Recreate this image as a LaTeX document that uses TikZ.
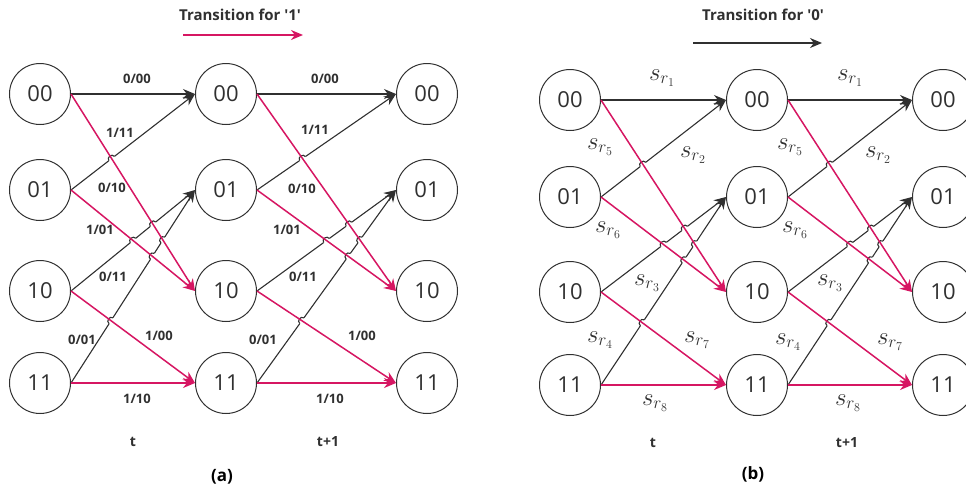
\documentclass[tikz,border=0pt]{standalone}
\usepackage{fontspec}
\setmainfont{Open Sans}
\usetikzlibrary{arrows.meta,intersections,calc}

\definecolor{trred}{RGB}{214,22,98}
\definecolor{trgray}{RGB}{48,48,48}

\tikzset{
  st/.style={circle,draw=trgray,line width=1pt,minimum size=61pt,inner sep=0pt,
    text=trgray,font=\fontsize{22}{24}\selectfont},
  zero/.style={draw=trgray,line width=1.1pt,-{Stealth[length=12pt,width=10pt]}},
  one/.style={draw=trred,line width=1.5pt,-{Stealth[length=12pt,width=10pt]}},
  lbl/.style={text=trgray,font=\fontsize{13}{15}\selectfont\bfseries},
  mlbl/.style={text=trgray,font=\fontsize{25}{27}\selectfont},
  ttl/.style={text=trgray,font=\fontsize{15}{17}\selectfont\bfseries},
  timelbl/.style={text=trgray,font=\fontsize{14}{16}\selectfont\bfseries},
  captxt/.style={text=black,font=\fontsize{17}{19}\selectfont\bfseries},
}

% little jump of a 0 branch over a 1 branch
\newcommand\hopover[3]{%
  \draw[white,line width=3pt] ($(#1)!3.5pt!(#2)$) -- ($(#1)!3.5pt!(#3)$);
  \draw[trgray,line width=1.1pt] ($(#1)!3.5pt!(#2)$) to[bend left=90,looseness=1.5] ($(#1)!3.5pt!(#3)$);}

\begin{document}
\begin{tikzpicture}[x=1pt,y=-1pt]
\useasboundingbox (0,0) rectangle (966,496);

% states, (a) left and (b) right
\foreach \s/\ya/\yb in {00/94/100,01/190/197,10/291/292,11/383/385}{
  \node[st] (a1-\s) at (40,\ya) {\s};
  \node[st] (a2-\s) at (226,\ya) {\s};
  \node[st] (a3-\s) at (427,\ya) {\s};
  \node[st] (b1-\s) at (570,\yb) {\s};
  \node[st] (b2-\s) at (757,\yb) {\s};
  \node[st] (b3-\s) at (943,\yb) {\s};
}

% branches of every stage
\foreach \p/\i/\j in {a/1/2,a/2/3,b/1/2,b/2/3}{
  \draw[zero] (\p\i-00.east) -- (\p\j-00.west);
  \draw[zero,name path=k01] (\p\i-01.east) -- (\p\j-00.west);
  \draw[zero,name path=k10] (\p\i-10.east) -- (\p\j-01.west);
  \draw[zero,name path=k11] (\p\i-11.east) -- (\p\j-01.west);
  \path[name path=r00] (\p\i-00.east) -- (\p\j-10.west);
  \path[name path=r01] (\p\i-01.east) -- (\p\j-10.west);
  \path[name path=r10] (\p\i-10.east) -- (\p\j-11.west);
  \path[name intersections={of=k01 and r00,by=x1}];
  \path[name intersections={of=k10 and r00,by=x2}];
  \path[name intersections={of=k10 and r01,by=x3}];
  \path[name intersections={of=k11 and r00,by=x4}];
  \path[name intersections={of=k11 and r01,by=x5}];
  \path[name intersections={of=k11 and r10,by=x6}];
  \hopover{x1}{\p\i-01.east}{\p\j-00.west}
  \hopover{x2}{\p\i-10.east}{\p\j-01.west}
  \hopover{x3}{\p\i-10.east}{\p\j-01.west}
  \hopover{x4}{\p\i-11.east}{\p\j-01.west}
  \hopover{x5}{\p\i-11.east}{\p\j-01.west}
  \hopover{x6}{\p\i-11.east}{\p\j-01.west}
  \draw[one] (\p\i-00.east) -- (\p\j-10.west);
  \draw[one] (\p\i-01.east) -- (\p\j-10.west);
  \draw[one] (\p\i-10.east) -- (\p\j-11.west);
  \draw[one] (\p\i-11.east) -- (\p\j-11.west);
}

% legends
\node[ttl] (ttla) at (240,15) {Transition for \textquotesingle 1\textquotesingle};
\coordinate (la1) at (183,35);
\coordinate (la2) at (303,35);
\draw[one] (la1) -- (la2);
\node[ttl] (ttlb) at (763,15) {Transition for \textquotesingle 0\textquotesingle};
\coordinate (lb1) at (693,43);
\coordinate (lb2) at (822,43);
\draw[zero] (lb1) -- (lb2);

% output labels of (a)
\node[lbl] at (137,79) {0/00};
\node[lbl] at (120,133) {1/11};
\node[lbl] at (112,188) {0/10};
\node[lbl] at (100,230) {1/01};
\node[lbl] at (113,277) {0/11};
\node[lbl] at (82,340) {0/01};
\node[lbl] at (159,336) {1/00};
\node[lbl] at (137,399) {1/10};
\node[lbl] at (325,79) {0/00};
\node[lbl] at (315,130) {1/11};
\node[lbl] at (302,189) {0/10};
\node[lbl] at (287,230) {1/01};
\node[lbl] at (303,277) {0/11};
\node[lbl] at (263,340) {0/01};
\node[lbl] at (362,336) {1/00};
\node[lbl] at (330,399) {1/10};

% symbol labels of (b)
\node[mlbl] at (662,78) {\(s_{r_1}\)};
\node[mlbl] at (600,147) {\(s_{r_5}\)};
\node[mlbl] at (693,155) {\(s_{r_2}\)};
\node[mlbl] at (608,230) {\(s_{r_6}\)};
\node[mlbl] at (647,283) {\(s_{r_3}\)};
\node[mlbl] at (600,340) {\(s_{r_4}\)};
\node[mlbl] at (697,340) {\(s_{r_7}\)};
\node[mlbl] at (655,403) {\(s_{r_8}\)};
\node[mlbl] at (850,78) {\(s_{r_1}\)};
\node[mlbl] at (790,147) {\(s_{r_5}\)};
\node[mlbl] at (878,155) {\(s_{r_2}\)};
\node[mlbl] at (795,230) {\(s_{r_6}\)};
\node[mlbl] at (830,283) {\(s_{r_3}\)};
\node[mlbl] at (788,342) {\(s_{r_4}\)};
\node[mlbl] at (890,342) {\(s_{r_7}\)};
\node[mlbl] at (848,403) {\(s_{r_8}\)};

% time axis and captions
\node[timelbl] (ta) at (133,442) {t};
\node[timelbl] (t1a) at (328,442) {t+1};
\node[timelbl] (tb) at (653,443) {t};
\node[timelbl] (t1b) at (847,443) {t+1};
\node[captxt] (capa) at (222,477) {(a)};
\node[captxt] (capb) at (753,474) {(b)};
\end{tikzpicture}
\end{document}
